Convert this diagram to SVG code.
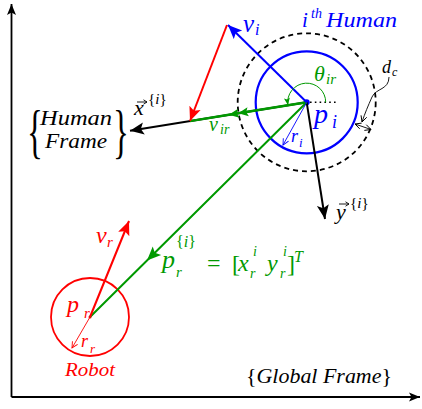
<svg xmlns="http://www.w3.org/2000/svg" width="422" height="409" viewBox="0 0 422 409" font-family="Liberation Serif, Times New Roman, serif">
<style>
.m{font-style:italic}
.u{font-style:normal}
.bl{fill:#0000ff}.rd{fill:#ff0000}.gr{fill:#009900}.bk{fill:#000}
.ln{fill:none;stroke-linecap:butt}
</style>
<defs>
<marker id="ahK" viewBox="-14 -7 15 14" markerWidth="15" markerHeight="14" refX="0" refY="0" orient="auto" markerUnits="userSpaceOnUse"><path d="M0,0 L-14,-6 L-11,0 L-14,6 z" fill="#000"/></marker>
<marker id="ahA" viewBox="-11 -5 12 10" markerWidth="12" markerHeight="10" refX="0" refY="0" orient="auto" markerUnits="userSpaceOnUse"><path d="M0,0 L-11,-4.5 L-8.5,0 L-11,4.5 z" fill="#000"/></marker>
<marker id="ahB" viewBox="-14 -7 15 14" markerWidth="15" markerHeight="14" refX="0" refY="0" orient="auto" markerUnits="userSpaceOnUse"><path d="M0,0 L-14,-6 L-11,0 L-14,6 z" fill="#0000ff"/></marker>
<marker id="ahR" viewBox="-14 -7 15 14" markerWidth="15" markerHeight="14" refX="0" refY="0" orient="auto" markerUnits="userSpaceOnUse"><path d="M0,0 L-14,-6 L-11,0 L-14,6 z" fill="#ff0000"/></marker>
<marker id="ahG" viewBox="-14 -7 15 14" markerWidth="15" markerHeight="14" refX="0" refY="0" orient="auto" markerUnits="userSpaceOnUse"><path d="M0,0 L-14,-6 L-11,0 L-14,6 z" fill="#009900"/></marker>
<marker id="ahGs" viewBox="-11 -5 12 10" markerWidth="12" markerHeight="10" refX="0" refY="0" orient="auto" markerUnits="userSpaceOnUse"><path d="M0,0 L-10,-4.5 L-8,0 L-10,4.5 z" fill="#009900"/></marker>
<marker id="ahGt" viewBox="-8 -4 9 8" markerWidth="9" markerHeight="8" refX="0" refY="0" orient="auto" markerUnits="userSpaceOnUse"><path d="M0,0 L-7,-3 L-5.5,0 L-7,3 z" fill="#009900"/></marker>
<marker id="tB" viewBox="-7 -4 8 8" markerWidth="8" markerHeight="8" refX="0" refY="0" orient="auto" markerUnits="userSpaceOnUse"><path d="M-6,-3 L0,0 L-6,3" fill="none" stroke="#0000ff" stroke-width="0.9"/></marker>
<marker id="tR" viewBox="-7 -4 8 8" markerWidth="8" markerHeight="8" refX="0" refY="0" orient="auto" markerUnits="userSpaceOnUse"><path d="M-6,-3 L0,0 L-6,3" fill="none" stroke="#ff0000" stroke-width="0.9"/></marker>
<marker id="tK" viewBox="-7 -4 8 8" markerWidth="8" markerHeight="8" refX="0" refY="0" orient="auto" markerUnits="userSpaceOnUse"><path d="M-6,-3 L0,0 L-6,3" fill="none" stroke="#000" stroke-width="0.9"/></marker>
<marker id="tKs" viewBox="-7 -4 8 8" markerWidth="8" markerHeight="8" refX="0" refY="0" orient="auto-start-reverse" markerUnits="userSpaceOnUse"><path d="M-6,-3 L0,0 L-6,3" fill="none" stroke="#000" stroke-width="0.9"/></marker>
<marker id="vec" viewBox="-5 -3 6 6" markerWidth="6" markerHeight="6" refX="0" refY="0" orient="auto" markerUnits="userSpaceOnUse"><path d="M-3.5,-2.2 L0,0 L-3.5,2.2" fill="none" stroke="#000" stroke-width="0.9"/></marker>
</defs>

<g id="global-frame">
<path class="ln" d="M11.5,397 L11.5,4" stroke="#000" stroke-width="1.8" marker-end="url(#ahA)"/>
<path class="ln" d="M11.5,397 L420,397" stroke="#000" stroke-width="1.8" marker-end="url(#ahA)"/>
<text class="m bk" x="246" y="383" font-size="20" textLength="146" lengthAdjust="spacingAndGlyphs"><tspan class="u">{</tspan>Global Frame<tspan class="u">}</tspan></text>
</g>

<g id="human">
<circle cx="306.7" cy="102.3" r="69" fill="none" stroke="#000" stroke-width="1.8" stroke-dasharray="5 4"/>
<circle cx="306.7" cy="102.3" r="51" fill="none" stroke="#0000ff" stroke-width="2.2"/>
<circle cx="306.7" cy="102.3" r="3" fill="#0000ff"/>
<text class="m bl" x="302" y="27" font-size="21">i</text>
<text class="m bl" x="311" y="18" font-size="14">th</text>
<text class="m bl" x="326" y="27" font-size="21" textLength="71" lengthAdjust="spacingAndGlyphs">Human</text>
<text class="m bl" x="314" y="123" font-size="28">p</text>
<text class="m bl" x="332" y="128" font-size="18">i</text>
</g>

<g id="robot">
<circle cx="90" cy="317" r="39" fill="none" stroke="#ff0000" stroke-width="1.8"/>
<circle cx="90" cy="317" r="1.5" fill="#ff0000"/>
<text class="m rd" x="67" y="312" font-size="24">p</text>
<text class="m rd" x="84" y="318" font-size="15">r</text>
<text class="m rd" x="81" y="347" font-size="18">r</text>
<text class="m rd" x="90" y="353" font-size="13">r</text>
<text class="m rd" x="65" y="376" font-size="18" textLength="50" lengthAdjust="spacingAndGlyphs">Robot</text>
</g>

<g id="human-frame-label">
<text class="u bk" transform="translate(27,151) scale(0.55,1)" font-size="60">{</text>
<text class="u bk" transform="translate(113,151) scale(0.55,1)" font-size="60">}</text>
<text class="m bk" x="40" y="125" font-size="20" textLength="72" lengthAdjust="spacingAndGlyphs">Human</text>
<text class="m bk" x="45" y="148" font-size="20" textLength="62" lengthAdjust="spacingAndGlyphs">Frame</text>
</g>

<g id="connectors">
<path class="ln" d="M306.7,102.3 L130,130.7" stroke="#000" stroke-width="2" marker-end="url(#ahK)"/>
<path class="ln" d="M306.7,102.3 L325,219" stroke="#000" stroke-width="2" marker-end="url(#ahK)"/>
<path class="ln" d="M306.7,102.3 L147,260.5 L90,317" stroke="#009900" stroke-width="2" marker-mid="url(#ahG)"/>
<path class="ln" d="M306.7,102.3 L238.3,113.3 L228.9,114.8 L190,121.1" stroke="#009900" stroke-width="2.4" marker-mid="url(#ahGs)"/>
<path class="ln" d="M306.7,102.3 L228,25" stroke="#0000ff" stroke-width="2" marker-end="url(#ahB)"/>
<path class="ln" d="M227,25 L190,121" stroke="#ff0000" stroke-width="2" marker-end="url(#ahR)"/>
<path class="ln" d="M90,317 L129,221" stroke="#ff0000" stroke-width="2" marker-end="url(#ahR)"/>
<path class="ln" d="M306.7,102.3 L283,145" stroke="#0000ff" stroke-width="0.9" marker-end="url(#tB)"/>
<path class="ln" d="M90,317 L72,348" stroke="#ff0000" stroke-width="0.9" marker-end="url(#tR)"/>
<path class="ln" d="M310,102.3 L338,102.3" stroke="#000" stroke-width="1.6" stroke-dasharray="1.6 3.2"/>
<path class="ln" d="M325.7,102.3 A19,19 0 1 0 287.9,104.9" stroke="#009900" stroke-width="1" marker-end="url(#ahGt)"/>
<path class="ln" d="M389,77 C389,90 376,88 372,97 C368,106 365,113 362,122" stroke="#000" stroke-width="0.9" marker-end="url(#tK)"/>
<path class="ln" d="M355,124 L371,129.5" stroke="#000" stroke-width="0.9" marker-start="url(#tKs)" marker-end="url(#tKs)"/>
<path class="ln" d="M137,102 L147,102" stroke="#000" stroke-width="0.9" marker-end="url(#vec)"/>
<path class="ln" d="M339,204 L349,204" stroke="#000" stroke-width="0.9" marker-end="url(#vec)"/>
</g>

<g id="labels">
<text class="m bl" x="243" y="32" font-size="25">v</text>
<text class="m bl" x="255" y="35" font-size="16">i</text>
<text class="m gr" x="314" y="81" font-size="22">θ</text>
<text class="m gr" x="326" y="84" font-size="15">ir</text>
<text class="m bl" x="291" y="142" font-size="18">r</text>
<text class="m bl" x="299" y="147" font-size="13">i</text>
<text class="m bk" x="382" y="73" font-size="18">d</text>
<text class="m bk" x="392" y="76" font-size="12">c</text>
<text class="m gr" x="209" y="131" font-size="20">v</text>
<text class="m gr" x="220" y="134" font-size="14">ir</text>
<text class="m bk" x="134" y="115" font-size="22">x</text>
<text class="bk" x="148" y="104" font-size="15"><tspan class="u">{</tspan><tspan class="m">i</tspan><tspan class="u">}</tspan></text>
<text class="m bk" x="336" y="219" font-size="22">y</text>
<text class="bk" x="350" y="208" font-size="15"><tspan class="u">{</tspan><tspan class="m">i</tspan><tspan class="u">}</tspan></text>
<text class="m rd" x="96" y="243" font-size="24">v</text>
<text class="m rd" x="107" y="247" font-size="15">r</text>
<text class="m gr" x="162" y="268" font-size="26">p</text>
<text class="gr" x="176" y="247" font-size="16"><tspan class="u">{</tspan><tspan class="m">i</tspan><tspan class="u">}</tspan></text>
<text class="m gr" x="176" y="277" font-size="15">r</text>
<text class="u gr" x="207" y="271" font-size="24">=</text>
<text class="u gr" x="232" y="272" font-size="24">[</text>
<text class="m gr" x="238" y="271" font-size="24">x</text>
<text class="m gr" x="253" y="256" font-size="14">i</text>
<text class="m gr" x="250" y="278" font-size="14">r</text>
<text class="m gr" x="267" y="271" font-size="24">y</text>
<text class="m gr" x="283" y="256" font-size="14">i</text>
<text class="m gr" x="280" y="278" font-size="14">r</text>
<text class="u gr" x="287" y="272" font-size="24">]</text>
<text class="m gr" x="294" y="262" font-size="16">T</text>
</g>
</svg>
